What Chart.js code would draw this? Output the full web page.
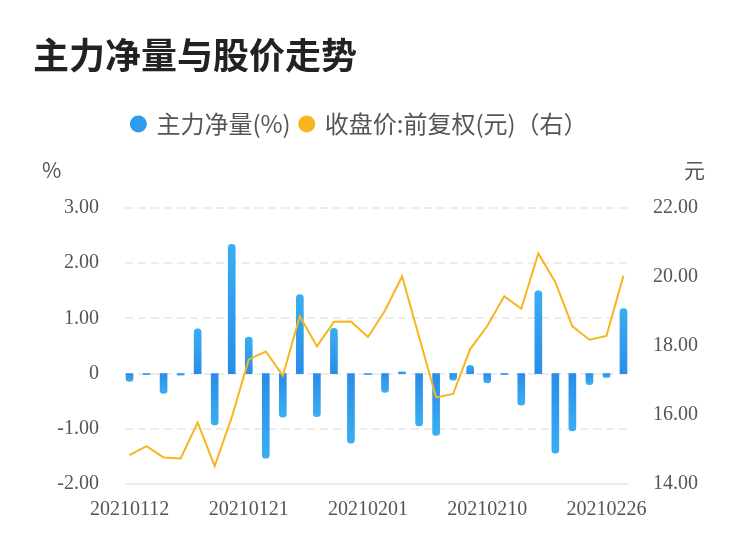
<!DOCTYPE html>
<html>
<head>
<meta charset="utf-8">
<script src="https://cdn.jsdelivr.net/npm/chart.js@4"></script>
<style>
  html, body { margin: 0; padding: 0; background: #fff; }
  #wrap { width: 750px; height: 558px; }
</style>
</head>
<body>
<div id="wrap"><canvas id="flowChart" width="750" height="558"></canvas></div>
<script>
// trading days
const dates = ['20210112', '20210113', '20210114', '20210115', '20210118', '20210119', '20210120',
  '20210121', '20210122', '20210125', '20210126', '20210127', '20210128', '20210129',
  '20210201', '20210202', '20210203', '20210204', '20210205', '20210208', '20210209',
  '20210210', '20210218', '20210219', '20210222', '20210223', '20210224', '20210225',
  '20210226', '20210301'];

// 主力净量 (%)
const netFlow = [-0.14, -0.02, -0.36, -0.03, 0.81, -0.93, 2.34, 0.66, -1.53, -0.79,
  1.43, -0.78, 0.82, -1.26, -0.02, -0.34, 0.03, -0.95, -1.12, -0.12,
  0.15, -0.17, -0.02, -0.57, 1.50, -1.44, -1.04, -0.20, -0.07, 1.18];

// 收盘价:前复权 (元)
const closePrice = [14.84, 15.10, 14.77, 14.74, 15.78, 14.52, 15.93, 17.61, 17.84, 17.14,
  18.86, 17.99, 18.70, 18.71, 18.26, 19.03, 20.02, 18.26, 16.51, 16.61,
  17.91, 18.58, 19.44, 19.08, 20.68, 19.85, 18.57, 18.18, 18.29, 20.04];

const pctTicks = [-2, -1, 0, 1, 2, 3];
const priceTicks = [14, 16, 18, 20, 22];

const tickFont = { family: '"Liberation Serif", serif', size: 20 };
const textColor = '#555';

// gradient per bar: light at the tip, darker at the base
function barColor(ctx) {
  const chart = ctx.chart;
  const y = chart.scales.y;
  if (!y || !chart.chartArea) return '#2f9bee';
  const v = ctx.raw;
  const base = y.getPixelForValue(0);
  const tip = y.getPixelForValue(v);
  if (Math.abs(base - tip) < 1) return '#2f9bee';
  const g = chart.ctx.createLinearGradient(0, tip, 0, base);
  g.addColorStop(0, '#39aef2');
  g.addColorStop(1, '#2a8ce8');
  return g;
}

const extras = {
  id: 'extras',
  beforeInit(chart) {
    const legend = chart.legend;
    const fit = legend.fit;
    legend.fit = function () {
      fit.call(legend);
      this.height += 62;
    };
  },
  beforeDatasetsDraw(chart) {
    // dashed grid lines, solid base line
    const c = chart.ctx;
    const y = chart.scales.y;
    const left = chart.chartArea.left + 4;
    const right = chart.chartArea.right - 4;
    c.save();
    c.strokeStyle = '#ececec';
    c.lineWidth = 2;
    pctTicks.forEach((t, i) => {
      const py = Math.round(y.getPixelForValue(t));
      c.setLineDash(i === 0 ? [] : [8, 5]);
      c.beginPath();
      c.moveTo(left, py);
      c.lineTo(right, py);
      c.stroke();
    });
    c.restore();
  },
  afterDraw(chart) {
    const c = chart.ctx;
    c.save();
    c.fillStyle = '#222';
    c.font = 'bold 36px "Noto Sans CJK SC", sans-serif';
    c.textBaseline = 'middle';
    c.textAlign = 'left';
    c.fillText('主力净量与股价走势', 33, 55);
    c.fillStyle = textColor;
    c.font = '21px "Noto Sans CJK SC", sans-serif';
    c.fillText('%', 42, 170);
    c.fillText('元', 684, 170);
    c.restore();
  }
};

const ctx = document.getElementById('flowChart').getContext('2d');
new Chart(ctx, {
  data: {
    labels: dates,
    datasets: [{
      type: 'bar',
      label: '主力净量(%)',
      data: netFlow,
      yAxisID: 'y',
      backgroundColor: barColor,
      barThickness: 7,
      borderRadius: 4,
      borderSkipped: 'start',
      order: 1
    }, {
      type: 'line',
      label: '收盘价:前复权(元)（右）',
      data: closePrice,
      yAxisID: 'y1',
      borderColor: '#f7b51e',
      backgroundColor: '#f7b51e',
      borderWidth: 2,
      pointRadius: 0,
      tension: 0,
      order: 0
    }]
  },
  options: {
    responsive: false,
    animation: false,
    layout: { padding: { top: 102, left: 0, right: 30, bottom: 30 } },
    plugins: {
      tooltip: { enabled: false },
      title: { display: false },
      legend: {
        position: 'top',
        align: 'center',
        labels: {
          usePointStyle: true,
          pointStyle: 'circle',
          boxWidth: 12,
          boxHeight: 12,
          padding: 10,
          color: textColor,
          font: { family: '"Noto Sans CJK SC", sans-serif', size: 24 },
          generateLabels(chart) {
            const items = Chart.defaults.plugins.legend.labels.generateLabels(chart);
            items.sort((a, b) => a.datasetIndex - b.datasetIndex);
            items.forEach(it => {
              const col = it.datasetIndex === 0 ? '#2f9bee' : '#f7b51e';
              it.fillStyle = col;
              it.strokeStyle = col;
              it.lineWidth = 0;
            });
            return items;
          }
        }
      }
    },
    scales: {
      x: {
        offset: true,
        grid: { display: false },
        border: { display: false },
        ticks: {
          autoSkip: false,
          maxRotation: 0,
          padding: 6,
          color: textColor,
          font: tickFont,
          callback: (v, i) => (i % 7 === 0 ? dates[i] : '')
        }
      },
      y: {
        position: 'left',
        min: -2,
        max: 3,
        afterBuildTicks: s => { s.ticks = pctTicks.map(v => ({ value: v })); },
        afterFit: s => { s.width = 121; },
        grid: { display: false, drawTicks: false },
        border: { display: false },
        ticks: {
          padding: 22,
          color: textColor,
          font: tickFont,
          callback: v => (v === 0 ? '0' : v.toFixed(2))
        }
      },
      y1: {
        position: 'right',
        min: 14,
        max: 22,
        afterBuildTicks: s => { s.ticks = priceTicks.map(v => ({ value: v })); },
        afterFit: s => { s.width = 88; },
        grid: { display: false, drawTicks: false },
        border: { display: false },
        ticks: {
          padding: 21,
          color: textColor,
          font: tickFont,
          callback: v => v.toFixed(2)
        }
      }
    }
  },
  plugins: [extras]
});
</script>
</body>
</html>
